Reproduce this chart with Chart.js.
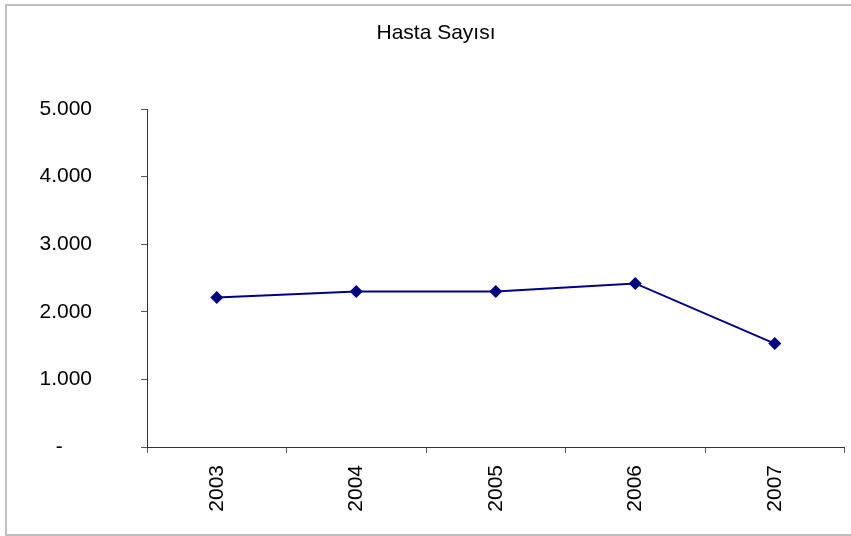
<!DOCTYPE html>
<html>
<head>
<meta charset="utf-8">
<script src="https://cdn.jsdelivr.net/npm/chart.js@4"></script>
<style>
    html, body { margin: 0; padding: 0; background: #fff; overflow: hidden; }
    #wrap { width: 851px; height: 536px; position: relative; }
</style>
</head>
<body>
<div id="wrap"><canvas id="chart"></canvas></div>
<script>
const years = ['2003', '2004', '2005', '2006', '2007'];
const patients = [2210, 2300, 2300, 2420, 1530];
const yTicks = [0, 1000, 2000, 3000, 4000, 5000];
const chartTitle = 'Hasta Sayısı';

const FONT = '"Liberation Sans", Arial, sans-serif';

// cadre gris (gauche, haut, bas) + titre
const frame = {
    id: 'frame',
    beforeDraw(chart) {
        const ctx = chart.ctx;
        ctx.save();
        ctx.fillStyle = '#fff';
        ctx.fillRect(0, 0, chart.width, chart.height);
        ctx.strokeStyle = '#c0c0c0';
        ctx.lineWidth = 2;
        ctx.beginPath();
        ctx.moveTo(chart.width, 5);
        ctx.lineTo(6, 5);
        ctx.lineTo(6, 535);
        ctx.lineTo(chart.width, 535);
        ctx.stroke();
        ctx.restore();
    },
    afterDraw(chart) {
        const ctx = chart.ctx;
        ctx.save();
        ctx.fillStyle = '#000';
        ctx.font = '21px ' + FONT;
        ctx.textAlign = 'center';
        ctx.textBaseline = 'alphabetic';
        ctx.fillText(chartTitle, 436, 39);
        ctx.restore();
    }
};

function formatNumber(v) {
    if (v === 0) return '-     ';
    return v.toLocaleString('de-DE');
}

new Chart(document.getElementById('chart'), {
    type: 'line',
    data: {
        labels: years,
        datasets: [{
            data: patients,
            borderColor: '#000080',
            backgroundColor: '#000080',
            borderWidth: 2,
            pointStyle: 'rectRot',
            pointRadius: 6.5,
            pointBorderWidth: 0,
            tension: 0
        }]
    },
    options: {
        responsive: true,
        maintainAspectRatio: false,
        animation: false,
        layout: { padding: { left: 0, right: 6, top: 109, bottom: 0 } },
        plugins: {
            legend: { display: false },
            tooltip: { enabled: false },
            title: { display: false }
        },
        scales: {
            x: {
                offset: true,
                grid: { offset: true, drawOnChartArea: false, drawTicks: true, tickLength: 6, color: '#555' },
                border: { color: '#333', width: 1 },
                ticks: {
                    color: '#000',
                    font: { family: FONT, size: 21 },
                    minRotation: 90,
                    maxRotation: 90,
                    padding: 12
                },
                afterFit(axis) { axis.height = 89; }
            },
            y: {
                min: 0,
                max: 5000,
                afterBuildTicks(axis) { axis.ticks = yTicks.map(v => ({ value: v })); },
                grid: { drawOnChartArea: false, drawTicks: true, tickLength: 6, color: '#555' },
                border: { color: '#333', width: 1 },
                ticks: {
                    color: '#000',
                    font: { family: FONT, size: 21 },
                    padding: 49,
                    callback: v => formatNumber(v)
                },
                afterFit(axis) { axis.width = 147; }
            }
        }
    },
    plugins: [frame]
});
</script>
</body>
</html>
